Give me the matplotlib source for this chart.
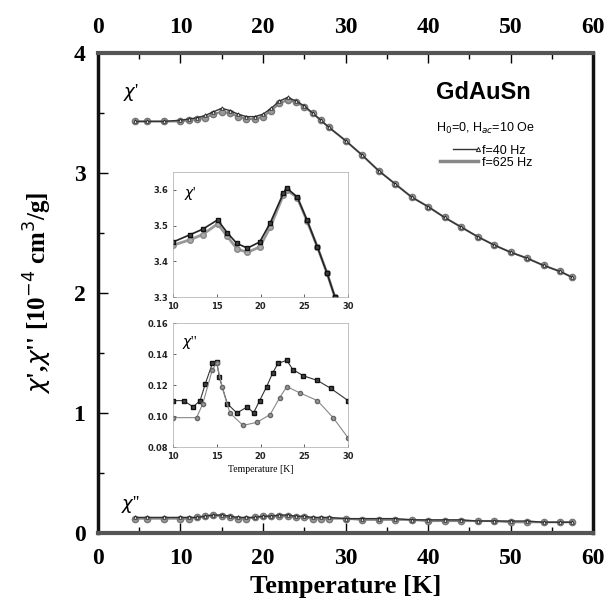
import numpy as np
import matplotlib.pyplot as plt
from matplotlib.ticker import MultipleLocator

# main panel, chi'
T_main = [4.5, 6, 8, 10, 11, 12, 13, 14, 15, 16, 17, 18, 19, 20, 21, 22, 23, 24, 25, 26,
          27, 28, 30, 32, 34, 36, 38, 40, 42, 44, 46, 48, 50, 52, 54, 56, 57.5]
chi1_40 = [3.43, 3.43, 3.43, 3.44, 3.45, 3.46, 3.48, 3.51, 3.54, 3.52, 3.49, 3.47, 3.47, 3.49,
           3.54, 3.60, 3.63, 3.60, 3.56, 3.50, 3.44, 3.38, 3.27, 3.15, 3.02, 2.91, 2.80, 2.72,
           2.63, 2.55, 2.47, 2.40, 2.34, 2.29, 2.23, 2.18, 2.13]
chi1_625 = [3.43, 3.43, 3.43, 3.43, 3.44, 3.45, 3.46, 3.49, 3.51, 3.50, 3.47, 3.45, 3.45, 3.47,
            3.52, 3.58, 3.61, 3.59, 3.55, 3.50, 3.44, 3.38, 3.27, 3.15, 3.02, 2.91, 2.80, 2.72,
            2.63, 2.55, 2.47, 2.40, 2.34, 2.29, 2.23, 2.18, 2.13]
# chi''
chi2_40 = [0.13, 0.13, 0.13, 0.13, 0.13, 0.13, 0.14, 0.15, 0.15, 0.14, 0.13, 0.13, 0.13, 0.14,
           0.14, 0.15, 0.15, 0.14, 0.14, 0.13, 0.13, 0.13, 0.12, 0.12, 0.12, 0.12, 0.11, 0.11,
           0.11, 0.11, 0.10, 0.10, 0.10, 0.10, 0.09, 0.09, 0.09]
chi2_625 = [0.12, 0.12, 0.12, 0.12, 0.12, 0.13, 0.14, 0.15, 0.14, 0.13, 0.12, 0.12, 0.13, 0.14,
            0.14, 0.14, 0.14, 0.13, 0.13, 0.12, 0.12, 0.12, 0.12, 0.11, 0.11, 0.11, 0.11, 0.10,
            0.10, 0.10, 0.10, 0.10, 0.09, 0.09, 0.09, 0.09, 0.09]

# inset, chi'
T_in1 = [10, 11.9, 13.4, 15.1, 16.2, 17.3, 18.5, 19.9, 21.1, 22.6, 23.0, 24.2, 25.3, 26.5, 27.6, 28.5]
in1_40 = [3.454, 3.474, 3.49, 3.516, 3.48, 3.45, 3.437, 3.454, 3.507, 3.59, 3.605, 3.58, 3.516,
          3.44, 3.367, 3.30]
in1_625 = [3.445, 3.46, 3.475, 3.505, 3.47, 3.435, 3.425, 3.44, 3.495, 3.585, 3.60, 3.578,
           3.514, 3.44, 3.367, 3.30]

# inset, chi''
T_in2a = [10, 11.2, 12.3, 13.1, 13.7, 14.5, 15.0, 15.3, 16.2, 17.3, 18.5, 19.2, 19.9, 20.7,
          21.4, 22.0, 23.0, 23.7, 24.9, 26.5, 28.0, 30]
in2_40 = [0.110, 0.110, 0.106, 0.110, 0.121, 0.134, 0.135, 0.125, 0.108, 0.102, 0.106, 0.102,
          0.110, 0.119, 0.128, 0.134, 0.136, 0.130, 0.126, 0.123, 0.118, 0.110]
T_in2b = [10, 12.7, 13.4, 14.5, 15.0, 15.6, 16.5, 18.0, 19.6, 21.1, 22.2, 23.0, 24.5, 26.5, 28.3, 30]
in2_625 = [0.099, 0.099, 0.108, 0.130, 0.134, 0.119, 0.102, 0.094, 0.096, 0.101, 0.112, 0.119,
           0.115, 0.110, 0.099, 0.086]

serif = ['Liberation Serif', 'DejaVu Serif']
sans = ['Liberation Sans', 'DejaVu Sans']

fig = plt.figure(figsize=(6.15, 6.15), dpi=100)
ax = fig.add_axes([0.1593, 0.1333, 0.805, 0.7805])

ax.plot(T_main, chi1_625, color='#888888', marker='o', ms=4.5, lw=1.5, mfc='#999999', mec='#777777')
ax.plot(T_main, chi1_40, color='#333333', marker='^', ms=2.5, lw=1.0, mfc='white', mec='#222222', mew=0.6)
ax.plot(T_main, chi2_625, color='#888888', marker='o', ms=4.5, lw=1.5, mfc='#999999', mec='#777777')
ax.plot(T_main, chi2_40, color='#333333', marker='^', ms=2.5, lw=1.0, mfc='white', mec='#222222', mew=0.6)

ax.set_xlim(0, 60)
ax.set_ylim(0, 4)
ax.xaxis.set_major_locator(MultipleLocator(10))
ax.xaxis.set_minor_locator(MultipleLocator(5))
ax.yaxis.set_major_locator(MultipleLocator(1))
ax.yaxis.set_minor_locator(MultipleLocator(0.5))
ax.tick_params(which='both', direction='in', top=True, labeltop=True, right=False)
ax.tick_params(which='major', length=7, width=1)
ax.tick_params(which='minor', length=4, width=1)
ax.tick_params(axis='x', which='major', pad=11)
ax.tick_params(axis='y', which='major', pad=9)
for lab in ax.get_xticklabels() + ax.get_yticklabels():
    lab.set_family(serif)
    lab.set_fontweight('bold')
    lab.set_fontsize(17)
for s in ['top', 'bottom']:
    ax.spines[s].set_linewidth(3)
    ax.spines[s].set_color('#555555')
for s in ['left', 'right']:
    ax.spines[s].set_linewidth(2.5)
    ax.spines[s].set_color('#111111')

ax.set_xlabel('Temperature [K]', family=serif, fontweight='bold', fontsize=19, labelpad=4)
ax.set_ylabel(r"$\chi$',$\chi$'' [10$^{-4}$ cm$^3$/g]", family=serif, fontweight='bold',
              fontsize=18, labelpad=14)

ax.text(3.0, 3.63, r"$\chi$'", family=serif, fontsize=13)
ax.text(2.8, 0.2, r"$\chi$''", family=serif, fontsize=13)

ax.text(41.0, 3.62, 'GdAuSn', family=sans, fontweight='bold', fontsize=17)
ax.text(41.0, 3.34, r'H$_0$=0, H$_{ac}$=10 Oe', family=sans, fontsize=9)
ax.plot([43.0, 46.0], [3.20, 3.20], color='#333333', marker='^', ms=3, lw=1.0, mfc='white',
        mec='#222222', mew=0.7, markevery=[1])
ax.text(46.6, 3.16, 'f=40 Hz', family=sans, fontsize=9)
ax.plot([41.5, 46.0], [3.10, 3.10], color='#888888', lw=2.5)
ax.text(46.6, 3.06, 'f=625 Hz', family=sans, fontsize=9)

# inset
def style_inset(a, yt, ylabels):
    a.set_xlim(10, 30)
    a.set_xticks([10, 15, 20, 25, 30])
    a.set_xticklabels(['10', '15', '20', '25', '30'])
    a.set_yticks(yt)
    a.set_yticklabels(ylabels)
    a.tick_params(direction='in', length=2, width=0.5, labelsize=6, colors='#222222')
    for lab in a.get_xticklabels() + a.get_yticklabels():
        lab.set_fontweight('bold')
    for s in a.spines.values():
        s.set_linewidth(0.5)
        s.set_color('#aaaaaa')
    a.patch.set_alpha(0)

axi1 = fig.add_axes([0.2813, 0.517, 0.2846, 0.2033])
axi1.plot(T_in1, in1_625, color='#999999', marker='o', ms=4, lw=2.0, mfc='#aaaaaa', mec='#888888')
axi1.plot(T_in1, in1_40, color='#222222', marker='s', ms=2.5, lw=1.2, mfc='#444444', mec='#111111')
axi1.set_ylim(3.3, 3.65)
style_inset(axi1, [3.3, 3.4, 3.5, 3.6], ['3.3', '3.4', '3.5', '3.6'])
axi1.text(11.3, 3.58, r"$\chi$'", family=serif, fontsize=10)

axi2 = fig.add_axes([0.2813, 0.273, 0.2846, 0.2016])
axi2.plot(T_in2a, in2_40, color='#333333', marker='s', ms=2.5, lw=0.8, mfc='#444444', mec='#111111')
axi2.plot(T_in2b, in2_625, color='#888888', marker='o', ms=3, lw=0.8, mfc='#999999', mec='#666666')
axi2.set_ylim(0.08, 0.16)
style_inset(axi2, [0.08, 0.10, 0.12, 0.14, 0.16], ['0.08', '0.10', '0.12', '0.14', '0.16'])
axi2.text(11.0, 0.145, r"$\chi$''", family=serif, fontsize=10)
axi2.set_xlabel('Temperature [K]', family=serif, fontsize=7, labelpad=3)

fig.savefig('out.png', dpi=100)
